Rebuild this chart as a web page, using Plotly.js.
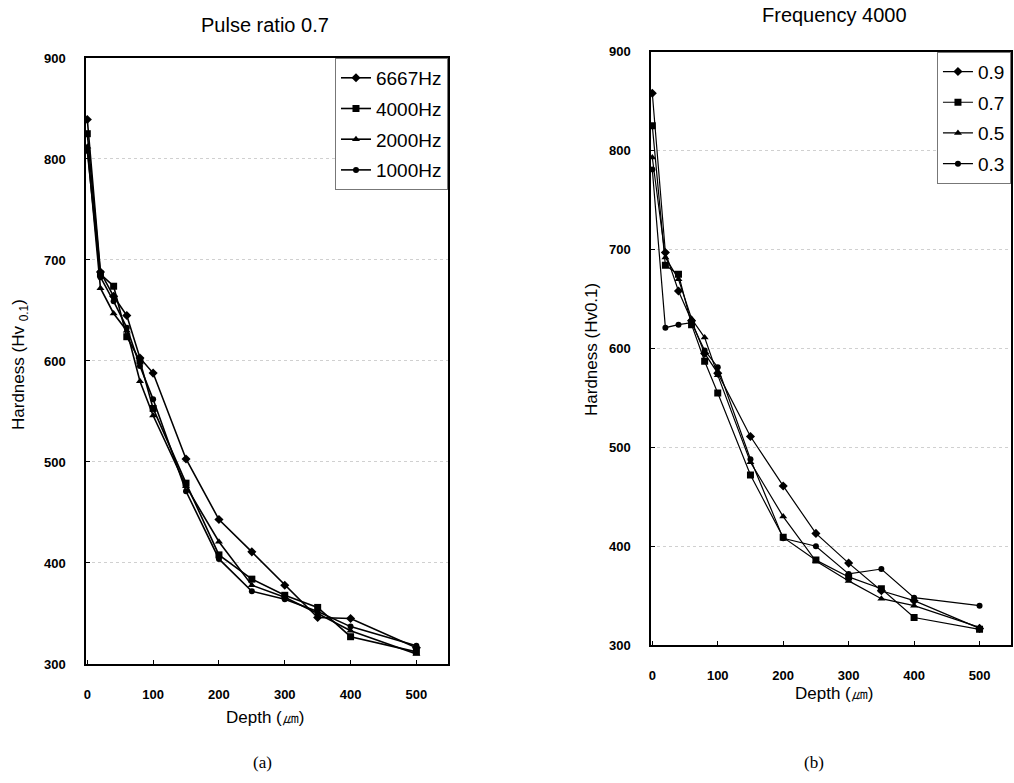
<!DOCTYPE html>
<html>
<head>
<meta charset="utf-8">
<script src="https://cdn.plot.ly/plotly-3.0.1.min.js"></script>
<style>html,body{margin:0;padding:0;background:#fff;}#chart{width:1014px;height:783px;}</style>
</head>
<body>
<div id="chart"></div>
<script>
// ---- data ----
const depth = [0, 20, 40, 60, 80, 100, 150, 200, 250, 300, 350, 400, 500];

// (a) Pulse ratio 0.7
const freqNames = ["6667Hz", "4000Hz", "2000Hz", "1000Hz"];
const hz6667 = [839, 688, 664, 645, 603, 588, 503, 443, 411, 378, 346, 345, 316];
const hz4000 = [825, 686, 674, 624, 600, 553, 479, 408, 384, 368, 356, 327, 312];
const hz2000 = [812, 672, 647, 630, 580, 546, 476, 421, 378, 366, 350, 333, 310];
const hz1000 = [808, 683, 659, 633, 595, 562, 471, 404, 372, 364, 352, 337, 318];

// (b) Frequency 4000
const ratioNames = ["0.9", "0.7", "0.5", "0.3"];
const r09 = [858, 697, 658, 628, 595, 575, 511, 461, 413, 383, 355, 345, 317];
const r07 = [825, 684, 675, 624, 587, 555, 472, 409, 386, 369, 357, 328, 316];
const r05 = [793, 692, 670, 630, 611, 573, 485, 430, 385, 365, 347, 340, 318];
const r03 = [781, 621, 624, 626, 598, 581, 488, 408, 400, 372, 377, 348, 340];

const yTicks = [300, 400, 500, 600, 700, 800, 900];
const xTicks = [0, 100, 200, 300, 400, 500];

// ---- styling ----
const symbols = ["diamond", "square", "triangle-up", "circle"];
const msizes = [7, 7, 7, 6];

function mk(y, name, i, xa, ya, leg, lw) {
  return {
    x: depth, y: y, name: name, type: "scatter", mode: "lines+markers",
    xaxis: xa, yaxis: ya, legend: leg, legendgroup: leg + name,
    line: {color: "#000", width: lw},
    marker: {symbol: symbols[i], size: msizes[i], color: "#000"}
  };
}

const aSeries = [hz6667, hz4000, hz2000, hz1000];
const bSeries = [r09, r07, r05, r03];
const data = [];
aSeries.forEach((s, i) => data.push(mk(s, freqNames[i], i, "x", "y", "legend", 1.6)));
bSeries.forEach((s, i) => data.push(mk(s, ratioNames[i], i, "x2", "y2", "legend2", 1.2)));

const font = {family: "Liberation Sans, Arial, sans-serif", color: "#000"};
const tickFont = {family: "Liberation Sans, Arial, sans-serif", size: 13, color: "#000", weight: "bold"};

function xax(domain, anchor) {
  return {
    domain: domain, anchor: anchor, range: [-2, 548], tickvals: xTicks,
    ticks: "inside", ticklen: 4, tickcolor: "#000", tickfont: tickFont,
    ticklabelstandoff: 18, showline: true, mirror: true, linecolor: "#000",
    linewidth: 1.6, showgrid: false, zeroline: false
  };
}
function yax(domain, anchor) {
  return {
    domain: domain, anchor: anchor, range: [300, 900], tickvals: yTicks,
    ticks: "inside", ticklen: 4, tickcolor: "#000", tickfont: tickFont,
    ticklabelstandoff: 16, showline: true, mirror: true, linecolor: "#000",
    linewidth: 1.6, showgrid: true, gridcolor: "#d0d0d0", griddash: "dot",
    gridwidth: 1, zeroline: false
  };
}

const legStyle = (x, y) => ({
  x: x, y: y, xanchor: "right", yanchor: "top", xref: "paper", yref: "paper",
  bgcolor: "#fff", bordercolor: "#777", borderwidth: 1,
  font: {family: font.family, size: 19, color: "#000"},
  traceorder: "grouped", tracegroupgap: 3, itemwidth: 30
});

function ann(text, px, py, size, angle, fam) {
  return {
    text: text, x: px / 1014, y: 1 - py / 783, xref: "paper", yref: "paper",
    xanchor: "center", yanchor: "middle", showarrow: false, textangle: angle || 0,
    font: {family: fam || font.family, size: size, color: "#000"}
  };
}

const layout = {
  width: 1014, height: 783,
  margin: {l: 0, r: 0, t: 0, b: 0},
  paper_bgcolor: "#fff", plot_bgcolor: "#fff",
  font: font, showlegend: true,
  xaxis: xax([0.0848, 0.4418], "y"),
  yaxis: yax([0.152, 0.926], "x"),
  xaxis2: xax([0.642, 0.997], "y2"),
  yaxis2: yax([0.176, 0.934], "x2"),
  legend: legStyle(0.4418, 0.926),
  legend2: legStyle(0.997, 0.934),
  annotations: [
    ann("Pulse ratio 0.7", 265, 25, 20),
    ann("Frequency 4000", 834, 15, 20),
    ann("Hardness (Hv <sub>0.1</sub>)", 20, 365, 17, -90),
    ann("Hardness (Hv0.1)", 591, 350, 17, -90),
    ann("Depth (㎛)", 265, 717, 17),
    ann("Depth (㎛)", 834, 693, 17),
    ann("(a)", 262, 762, 17, 0, "Liberation Serif, serif"),
    ann("(b)", 814, 762, 17, 0, "Liberation Serif, serif")
  ]
};

Plotly.newPlot("chart", data, layout, {displayModeBar: false, staticPlot: true});
</script>
</body>
</html>
